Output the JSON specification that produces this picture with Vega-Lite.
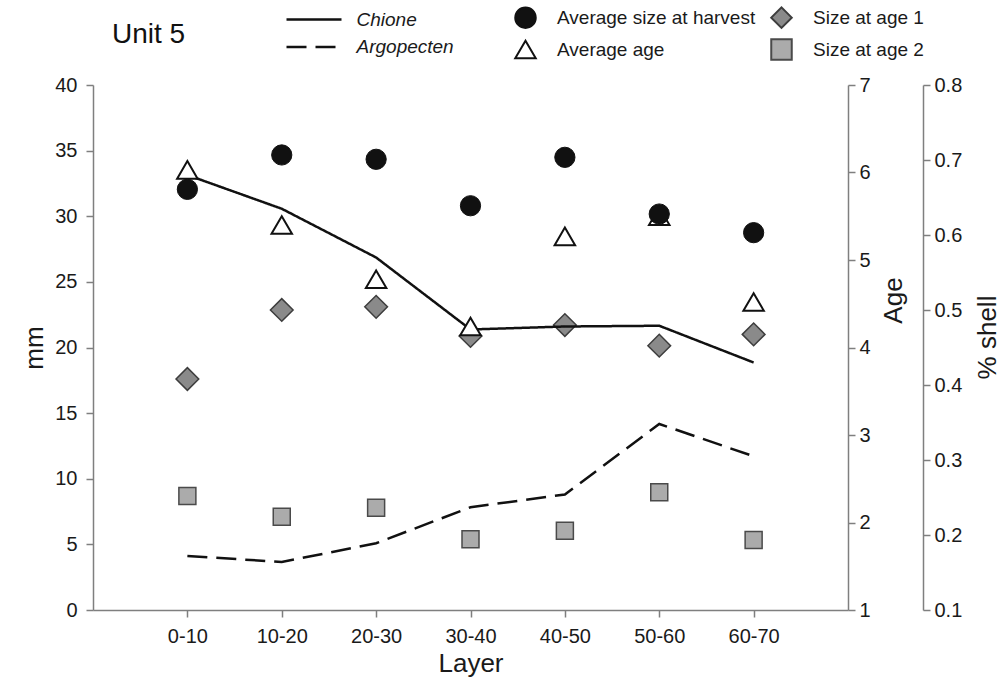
{
  "$schema": "https://vega.github.io/schema/vega-lite/v6.json",
  "width": 755,
  "height": 525,
  "autosize": "none",
  "padding": {"left": 93, "top": 85, "right": 156, "bottom": 69},
  "title": {"text": "Unit 5", "anchor": "start", "frame": "group", "dx": 19, "offset": -42.5, "fontSize": 28, "font": "Liberation Sans", "fontWeight": "normal", "color": "#111111"},
  "data": {"values": [
    {"layer": "0-10", "harvest": 32.05, "avgAge": 6.03, "age1": 17.6, "age2": 8.69, "Chione": 0.68, "Argopecten": 0.172},
    {"layer": "10-20", "harvest": 34.67, "avgAge": 5.40, "age1": 22.86, "age2": 7.11, "Chione": 0.635, "Argopecten": 0.164},
    {"layer": "20-30", "harvest": 34.34, "avgAge": 4.78, "age1": 23.10, "age2": 7.79, "Chione": 0.570, "Argopecten": 0.189},
    {"layer": "30-40", "harvest": 30.80, "avgAge": 4.24, "age1": 20.88, "age2": 5.39, "Chione": 0.474, "Argopecten": 0.237},
    {"layer": "40-50", "harvest": 34.49, "avgAge": 5.27, "age1": 21.71, "age2": 6.04, "Chione": 0.478, "Argopecten": 0.254},
    {"layer": "50-60", "harvest": 30.17, "avgAge": 5.50, "age1": 20.14, "age2": 8.97, "Chione": 0.479, "Argopecten": 0.348},
    {"layer": "60-70", "harvest": 28.75, "avgAge": 4.52, "age1": 21.00, "age2": 5.33, "Chione": 0.430, "Argopecten": 0.305}
  ]},
  "encoding": {
    "x": {"field": "layer", "type": "ordinal", "sort": null, "scale": {"type": "point", "padding": 1}, "axis": {"title": "Layer", "labelAngle": 0, "labelPadding": 9, "titlePadding": 4}}
  },
  "layer": [
    {
      "layer": [
        {
          "mark": {"type": "point", "size": 515, "strokeWidth": 1.5, "opacity": 1, "fillOpacity": 1},
          "encoding": {
            "y": {"field": "age1", "type": "quantitative", "scale": {"domain": [0, 40], "nice": false, "zero": false}, "axis": {"orient": "left", "title": "mm", "values": [0, 5, 10, 15, 20, 25, 30, 35, 40], "titlePadding": 7, "labelPadding": 9}},
            "shape": {"datum": "Size at age 1", "scale": {"domain": ["Average size at harvest", "Average age", "Size at age 1", "Size at age 2"], "range": ["circle", "triangle-up", "diamond", "square"]}, "legend": {"title": null, "orient": "none", "legendX": 421, "legendY": -79, "columns": 2, "symbolSize": 420, "symbolStrokeWidth": 2, "labelOffset": 20, "rowPadding": 3, "columnPadding": 11, "labelFontSize": 19, "padding": 0}},
            "fill": {"datum": "Size at age 1", "scale": {"domain": ["Average size at harvest", "Average age", "Size at age 1", "Size at age 2"], "range": ["#111111", "#ffffff", "#8a8a8a", "#ababab"]}, "legend": {"title": null, "orient": "none", "legendX": 421, "legendY": -79, "columns": 2, "symbolSize": 420, "symbolStrokeWidth": 2, "labelOffset": 20, "rowPadding": 3, "columnPadding": 11, "labelFontSize": 19, "padding": 0}},
            "stroke": {"datum": "Size at age 1", "scale": {"domain": ["Average size at harvest", "Average age", "Size at age 1", "Size at age 2"], "range": ["#111111", "#111111", "#3d3d3d", "#4a4a4a"]}, "legend": {"title": null, "orient": "none", "legendX": 421, "legendY": -79, "columns": 2, "symbolSize": 420, "symbolStrokeWidth": 2, "labelOffset": 20, "rowPadding": 3, "columnPadding": 11, "labelFontSize": 19, "padding": 0}}
          }
        },
        {
          "mark": {"type": "point", "size": 289, "strokeWidth": 1.5, "opacity": 1, "fillOpacity": 1},
          "encoding": {
            "y": {"field": "age2", "type": "quantitative", "scale": {"domain": [0, 40], "nice": false, "zero": false}, "axis": {"orient": "left", "title": "mm", "values": [0, 5, 10, 15, 20, 25, 30, 35, 40], "titlePadding": 7, "labelPadding": 9}},
            "shape": {"datum": "Size at age 2", "scale": {"domain": ["Average size at harvest", "Average age", "Size at age 1", "Size at age 2"], "range": ["circle", "triangle-up", "diamond", "square"]}, "legend": {"title": null, "orient": "none", "legendX": 421, "legendY": -79, "columns": 2, "symbolSize": 420, "symbolStrokeWidth": 2, "labelOffset": 20, "rowPadding": 3, "columnPadding": 11, "labelFontSize": 19, "padding": 0}},
            "fill": {"datum": "Size at age 2", "scale": {"domain": ["Average size at harvest", "Average age", "Size at age 1", "Size at age 2"], "range": ["#111111", "#ffffff", "#8a8a8a", "#ababab"]}, "legend": {"title": null, "orient": "none", "legendX": 421, "legendY": -79, "columns": 2, "symbolSize": 420, "symbolStrokeWidth": 2, "labelOffset": 20, "rowPadding": 3, "columnPadding": 11, "labelFontSize": 19, "padding": 0}},
            "stroke": {"datum": "Size at age 2", "scale": {"domain": ["Average size at harvest", "Average age", "Size at age 1", "Size at age 2"], "range": ["#111111", "#111111", "#3d3d3d", "#4a4a4a"]}, "legend": {"title": null, "orient": "none", "legendX": 421, "legendY": -79, "columns": 2, "symbolSize": 420, "symbolStrokeWidth": 2, "labelOffset": 20, "rowPadding": 3, "columnPadding": 11, "labelFontSize": 19, "padding": 0}}
          }
        }
      ]
    },
    {
      "transform": [{"fold": ["Chione", "Argopecten"], "as": ["species", "shell"]}],
      "mark": {"type": "line", "strokeWidth": 2.5, "color": "#111111"},
      "encoding": {
        "y": {"field": "shell", "type": "quantitative", "scale": {"domain": [0.1, 0.8], "nice": false, "zero": false}, "axis": {"orient": "right", "offset": 75, "values": [0.1, 0.2, 0.3, 0.4, 0.5, 0.6, 0.7, 0.8], "format": ".1f", "title": "% shell", "titleAngle": 270, "titleBaseline": "top", "titleY": 252, "titlePadding": 13, "labelPadding": 4}},
        "strokeDash": {"field": "species", "type": "nominal", "scale": {"domain": ["Chione", "Argopecten"], "range": [[1, 0], [20, 9]]}, "legend": {"title": null, "orient": "none", "legendX": 208.5, "legendY": -78, "symbolType": "M-2.5,0H2.5", "symbolSize": 484, "symbolStrokeWidth": 2.5, "symbolStrokeColor": "#111111", "labelOffset": 30, "labelFontStyle": "italic", "labelFontSize": 19, "rowPadding": 4.5, "padding": 0}}
      }
    },
    {
      "mark": {"type": "point", "size": 420, "strokeWidth": 2, "opacity": 1, "fillOpacity": 1},
      "encoding": {
        "y": {"field": "avgAge", "type": "quantitative", "scale": {"domain": [1, 7], "nice": false, "zero": false}, "axis": {"orient": "right", "values": [1, 2, 3, 4, 5, 6, 7], "title": "Age", "titleAngle": 270, "titleBaseline": "top", "titleY": 215, "titlePadding": 10, "labelPadding": 4}},
        "shape": {"datum": "Average age", "scale": {"domain": ["Average size at harvest", "Average age", "Size at age 1", "Size at age 2"], "range": ["circle", "triangle-up", "diamond", "square"]}, "legend": {"title": null, "orient": "none", "legendX": 421, "legendY": -79, "columns": 2, "symbolSize": 420, "symbolStrokeWidth": 2, "labelOffset": 20, "rowPadding": 3, "columnPadding": 11, "labelFontSize": 19, "padding": 0}},
        "fill": {"datum": "Average age", "scale": {"domain": ["Average size at harvest", "Average age", "Size at age 1", "Size at age 2"], "range": ["#111111", "#ffffff", "#8a8a8a", "#ababab"]}, "legend": {"title": null, "orient": "none", "legendX": 421, "legendY": -79, "columns": 2, "symbolSize": 420, "symbolStrokeWidth": 2, "labelOffset": 20, "rowPadding": 3, "columnPadding": 11, "labelFontSize": 19, "padding": 0}},
        "stroke": {"datum": "Average age", "scale": {"domain": ["Average size at harvest", "Average age", "Size at age 1", "Size at age 2"], "range": ["#111111", "#111111", "#3d3d3d", "#4a4a4a"]}, "legend": {"title": null, "orient": "none", "legendX": 421, "legendY": -79, "columns": 2, "symbolSize": 420, "symbolStrokeWidth": 2, "labelOffset": 20, "rowPadding": 3, "columnPadding": 11, "labelFontSize": 19, "padding": 0}}
      }
    },
    {
      "mark": {"type": "point", "size": 410, "strokeWidth": 1, "opacity": 1, "fillOpacity": 1},
      "encoding": {
        "y": {"field": "harvest", "type": "quantitative", "scale": {"domain": [0, 40], "nice": false, "zero": false}, "axis": null},
        "shape": {"datum": "Average size at harvest", "scale": {"domain": ["Average size at harvest", "Average age", "Size at age 1", "Size at age 2"], "range": ["circle", "triangle-up", "diamond", "square"]}, "legend": {"title": null, "orient": "none", "legendX": 421, "legendY": -79, "columns": 2, "symbolSize": 420, "symbolStrokeWidth": 2, "labelOffset": 20, "rowPadding": 3, "columnPadding": 11, "labelFontSize": 19, "padding": 0}},
        "fill": {"datum": "Average size at harvest", "scale": {"domain": ["Average size at harvest", "Average age", "Size at age 1", "Size at age 2"], "range": ["#111111", "#ffffff", "#8a8a8a", "#ababab"]}, "legend": {"title": null, "orient": "none", "legendX": 421, "legendY": -79, "columns": 2, "symbolSize": 420, "symbolStrokeWidth": 2, "labelOffset": 20, "rowPadding": 3, "columnPadding": 11, "labelFontSize": 19, "padding": 0}},
        "stroke": {"datum": "Average size at harvest", "scale": {"domain": ["Average size at harvest", "Average age", "Size at age 1", "Size at age 2"], "range": ["#111111", "#111111", "#3d3d3d", "#4a4a4a"]}, "legend": {"title": null, "orient": "none", "legendX": 421, "legendY": -79, "columns": 2, "symbolSize": 420, "symbolStrokeWidth": 2, "labelOffset": 20, "rowPadding": 3, "columnPadding": 11, "labelFontSize": 19, "padding": 0}}
      }
    }
  ],
  "resolve": {"scale": {"y": "independent"}},
  "config": {
    "font": "Liberation Sans",
    "view": {"stroke": null},
    "axis": {"grid": false, "domainColor": "#7f7f7f", "domainWidth": 1.5, "tickColor": "#7f7f7f", "tickWidth": 1.5, "tickSize": 7, "labelFont": "Liberation Sans", "labelFontSize": 20, "labelColor": "#1a1a1a", "titleFont": "Liberation Sans", "titleFontSize": 26, "titleFontWeight": "normal", "titleColor": "#1a1a1a"},
    "legend": {"labelFont": "Liberation Sans", "labelColor": "#1a1a1a", "labelLimit": 400}
  }
}
